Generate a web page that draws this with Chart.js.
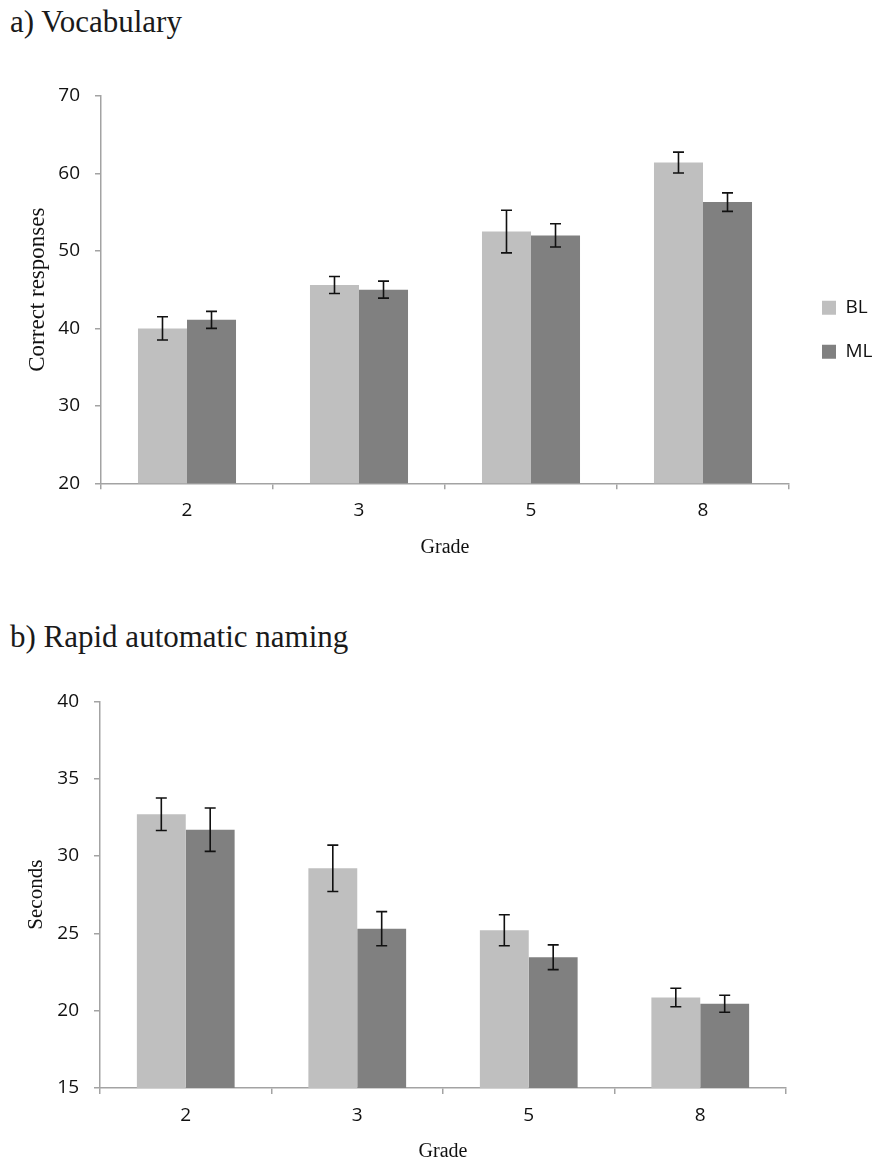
<!DOCTYPE html>
<html>
<head>
<meta charset="utf-8">
<script src="https://cdn.jsdelivr.net/npm/chart.js@4.4.1/dist/chart.umd.min.js"></script>
<style>
  html, body { margin: 0; padding: 0; background: #fff; overflow: hidden; }
  .title { position: absolute; left: 10px; font-family: 'Liberation Serif', 'Times New Roman', serif; font-size: 31px; line-height: 30px; color: #1a1a1a; white-space: nowrap; }
  .box { position: absolute; left: 0; width: 874px; }
</style>
</head>
<body>
<div class="title" style="top:7px">a) Vocabulary</div>
<div class="box" style="top:60px;height:540px"><canvas id="vocabChart"></canvas></div>
<div class="title" style="top:622px">b) Rapid automatic naming</div>
<div class="box" style="top:660px;height:506px"><canvas id="ranChart"></canvas></div>
<script>
const grades = ['2', '3', '5', '8'];
const seriesNames = ['BL', 'ML'];

// a) vocabulary, correct responses
const vocabBL = [40.0, 45.6, 52.5, 61.4];
const vocabML = [41.1, 45.0, 52.0, 56.3];
const vocabBLErr = [1.5, 1.1, 2.75, 1.35];
const vocabMLErr = [1.1, 1.1, 1.5, 1.2];

// b) rapid automatic naming, seconds
const ranBL = [32.7, 29.2, 25.2, 20.85];
const ranML = [31.7, 25.3, 23.45, 20.45];
const ranBLErr = [1.05, 1.5, 1.0, 0.6];
const ranMLErr = [1.4, 1.1, 0.8, 0.55];

const axisColor = '#a3a3a3';
const textColor = '#111';
const tickFont = { family: "'Open Sans', sans-serif", size: 19 };
const serifFont = { family: "'Liberation Serif', 'Times New Roman', serif", size: 21 };

// draws the +/- error whiskers on each bar
const errorBars = {
    id: 'errorBars',
    afterDatasetsDraw(chart) {
        const ctx = chart.ctx;
        const yScale = chart.scales.y;
        ctx.save();
        ctx.strokeStyle = '#111';
        ctx.lineWidth = 1.6;
        chart.data.datasets.forEach((ds, i) => {
            const meta = chart.getDatasetMeta(i);
            meta.data.forEach((bar, j) => {
                const v = ds.data[j];
                const e = ds.errors[j];
                const top = yScale.getPixelForValue(v + e);
                const bottom = yScale.getPixelForValue(v - e);
                const x = bar.x;
                ctx.beginPath();
                ctx.moveTo(x, top); ctx.lineTo(x, bottom);
                ctx.moveTo(x - 5.5, top); ctx.lineTo(x + 5.5, top);
                ctx.moveTo(x - 5.5, bottom); ctx.lineTo(x + 5.5, bottom);
                ctx.stroke();
            });
        });
        ctx.restore();
    }
};

// push the legend a bit further away from the plot
const nudgeLegend = {
    id: 'nudgeLegend',
    afterLayout(chart) {
        const lg = chart.legend;
        if (!lg || !lg.options.display) return;
        lg.left += 8;
        lg.right += 8;
        lg.top += 2;
        lg.bottom += 2;
    }
};

const makeChart = (id, bl, ml, blErr, mlErr, yMin, yMax, step, yTitle, yTitleSize, showLegend, yWidth, padding) => {
    const ctx = document.getElementById(id).getContext('2d');
    return new Chart(ctx, {
        type: 'bar',
        data: {
            labels: grades,
            datasets: [
                { label: seriesNames[0], data: bl, errors: blErr, backgroundColor: '#bfbfbf', borderWidth: 0 },
                { label: seriesNames[1], data: ml, errors: mlErr, backgroundColor: '#808080', borderWidth: 0 }
            ]
        },
        options: {
            responsive: true,
            maintainAspectRatio: false,
            animation: false,
            layout: { padding: padding },
            datasets: { bar: { categoryPercentage: 0.57, barPercentage: 1.0 } },
            plugins: {
                tooltip: { enabled: false },
                legend: {
                    display: showLegend,
                    position: 'right',
                    align: 'center',
                    maxWidth: 80,
                    labels: { boxWidth: 14, boxHeight: 14, padding: 25, color: textColor, font: tickFont }
                }
            },
            scales: {
                x: {
                    offset: true,
                    grid: { offset: true, drawOnChartArea: false, tickLength: 6, color: axisColor, lineWidth: 1.5 },
                    border: { color: axisColor, width: 1.5 },
                    ticks: { color: textColor, font: tickFont, padding: 10 },
                    title: { display: true, text: 'Grade', color: textColor, font: { ...serifFont, size: 20 }, padding: { top: 0, bottom: 0 } },
                    afterFit: (s) => { s.height = 76; }
                },
                y: {
                    min: yMin,
                    max: yMax,
                    beginAtZero: false,
                    grid: { drawOnChartArea: false, tickLength: 6, color: axisColor, lineWidth: 1.5 },
                    border: { color: axisColor, width: 1.5 },
                    ticks: { stepSize: step, color: textColor, font: tickFont, padding: 15 },
                    title: { display: true, text: yTitle, color: textColor, font: { ...serifFont, size: yTitleSize }, padding: { top: 24, bottom: 0 } },
                    afterFit: (s) => { s.width = yWidth; }
                }
            }
        },
        plugins: [errorBars, nudgeLegend]
    });
};

makeChart('vocabChart', vocabBL, vocabML, vocabBLErr, vocabMLErr, 20, 70, 10,
    'Correct responses', 23, true, 101, { top: 36, bottom: 40.7, left: 0, right: 5 });
makeChart('ranChart', ranBL, ranML, ranBLErr, ranMLErr, 15, 40, 5,
    'Seconds', 21, false, 100, { top: 41.3, bottom: 2, left: 0, right: 88 });
</script>
</body>
</html>
